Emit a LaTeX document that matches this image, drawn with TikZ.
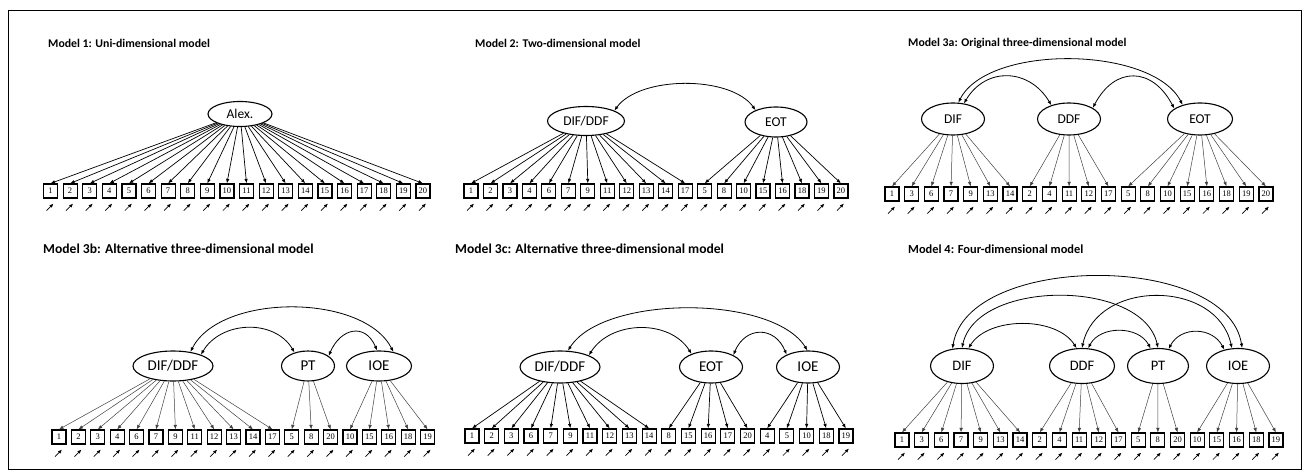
\documentclass[tikz,border=0pt]{standalone}
\usepackage{fontspec}
\setmainfont{Carlito}
\newfontfamily\itemfont{Liberation Serif}
\usepackage{tikz}
\usetikzlibrary{calc}
\usetikzlibrary{arrows.meta,shapes}

\newcommand{\itemrow}[5]{%
  \foreach \v [count=\i] in {#5} {
    \node[item] (#1\i) at ({#2+(\i-1)*#3},#4) {\v};
    \coordinate (#1s\i) at ($(#1\i.south)+(-4,12)$);
    \coordinate (#1t\i) at ($(#1\i.south)+(3,5)$);
    \draw[err] (#1s\i) -- (#1t\i);
  }}

\begin{document}
\begin{tikzpicture}[x=1pt,y=-1pt,
    factor/.style={draw,ellipse,line width=1.1pt,inner sep=0pt,font=\fontsize{#1}{#1}\selectfont},
    factor/.default=13.5,
    item/.style={draw,line width=1.2pt,minimum width=14pt,minimum height=14pt,inner sep=0pt,font=\itemfont\fontsize{8.5}{9}\selectfont},
    load/.style={-{Latex[length=4.5pt,width=3.5pt]},line width=0.7pt},
    light load/.style={load,line width=0.5pt,draw=black!75},
    err/.style={-{Latex[length=4pt,width=3.5pt]},line width=0.7pt},
    cov/.style={{Latex[length=4.5pt,width=3.5pt]}-{Latex[length=4.5pt,width=3.5pt]},line width=0.8pt},
    title/.style={anchor=west,inner sep=0pt,font=\bfseries\fontsize{#1}{#1}\selectfont},
    title/.default=11.8]

  \useasboundingbox (0,0) rectangle (1308,476);
  \draw[line width=0.8pt] (8,10) rectangle (1301,469);

  \node[title] (t1) at (48,43) {Model 1: Uni-dimensional model};
  \node[title] (t2) at (475,43) {Model 2: Two-dimensional model};
  \node[title] (t3) at (908,43) {Model 3a: Original three-dimensional model};
  \node[title=13.6] (t4) at (43,249) {Model 3b: Alternative three-dimensional model};
  \node[title=13.6] (t5) at (455,249) {Model 3c: Alternative three-dimensional model};
  \node[title=12.4] (t6) at (908,249) {Model 4: Four-dimensional model};

  % Model 1
  \node[factor,minimum width=64,minimum height=25] (alex) at (240,114) {Alex.};
  \itemrow{a}{50.5}{19.6}{191}{1,...,20}
  \foreach \i in {1,...,20} \draw[load] (alex) -- (a\i.north);

  % Model 2
  \node[factor,minimum width=77,minimum height=29] (dd2) at (586,121) {DIF/DDF};
  \node[factor,minimum width=62,minimum height=30] (eot2) at (776,122) {EOT};
  \itemrow{b}{471}{19.47}{191}{1,2,3,4,6,7,9,11,12,13,14,17,5,8,10,15,16,18,19,20}
  \foreach \i in {1,...,12} \draw[load] (dd2) -- (b\i.north);
  \foreach \i in {13,...,20} \draw[load] (eot2) -- (b\i.north);
  \draw[cov] (dd2.20) .. controls +(25,-35) and +(-25,-35) .. (eot2.150);

  % Model 3a
  \node[factor,minimum width=63,minimum height=32] (dif3) at (953,119) {DIF};
  \node[factor,minimum width=63,minimum height=32] (ddf3) at (1069,119) {DDF};
  \node[factor,minimum width=65,minimum height=32] (eot3) at (1200,119) {EOT};
  \itemrow{c}{892}{19.68}{194}{1,3,6,7,9,13,14,2,4,11,12,17,5,8,10,15,16,18,19,20}
  \foreach \i in {1,...,7} \draw[light load] (dif3) -- (c\i.north);
  \foreach \i in {8,...,12} \draw[light load] (ddf3) -- (c\i.north);
  \foreach \i in {13,...,20} \draw[light load] (eot3) -- (c\i.north);
  \draw[cov] (dif3.72) .. controls +(30,-59) and +(-30,-59) .. (eot3.141);
  \draw[cov] (dif3.55) .. controls +(22,-37) and +(-22,-37) .. (ddf3.142);
  \draw[cov] (ddf3.25) .. controls +(22,-42) and +(-22,-42) .. (eot3.158);

  % Model 3b
  \node[factor=15,minimum width=80,minimum height=30] (ddb) at (173,366) {DIF/DDF};
  \node[factor=15,minimum width=53,minimum height=30] (ptb) at (308,366) {PT};
  \node[factor=15,minimum width=65,minimum height=30] (ioeb) at (379,366) {IOE};
  \itemrow{d}{59}{19.4}{437}{1,2,3,4,6,7,9,11,12,13,14,17,5,8,20,10,15,16,18,19}
  \foreach \i in {1,...,12} \draw[light load] (ddb) -- (d\i.north);
  \foreach \i in {13,...,15} \draw[light load] (ptb) -- (d\i.north);
  \foreach \i in {16,...,20} \draw[light load] (ioeb) -- (d\i.north);
  \draw[cov] (ddb.39) .. controls +(30,-59) and +(-30,-59) .. (ioeb.44);
  \draw[cov] (ddb.22) .. controls +(20,-34) and +(-20,-34) .. (ptb.135);
  \draw[cov] (ptb.26) .. controls +(12,-28) and +(-12,-28) .. (ioeb.97);

  % Model 3c
  \node[factor=15,minimum width=80,minimum height=32] (ddc) at (560,367) {DIF/DDF};
  \node[factor=15,minimum width=63,minimum height=32] (eotc) at (711,367) {EOT};
  \node[factor=15,minimum width=63,minimum height=32] (ioec) at (808,367) {IOE};
  \itemrow{e}{472}{19.68}{436}{1,2,3,6,7,9,11,12,13,14,8,15,16,17,20,4,5,10,18,19}
  \foreach \i in {1,...,10} \draw[load] (ddc) -- (e\i.north);
  \foreach \i in {11,...,15} \draw[load] (eotc) -- (e\i.north);
  \foreach \i in {16,...,20} \draw[load] (ioec) -- (e\i.north);
  \draw[cov] (ddc.64) .. controls +(35,-56) and +(-35,-56) .. (ioec.92);
  \draw[cov] (ddc.22) .. controls +(22,-35) and +(-22,-35) .. (eotc.146);
  \draw[cov] (eotc.28) .. controls +(12,-29) and +(-12,-29) .. (ioec.150);

  % Model 4
  \node[factor=14.5,minimum width=63,minimum height=35] (dif4) at (962,366) {DIF};
  \node[factor=14.5,minimum width=65,minimum height=35] (ddf4) at (1082,366) {DDF};
  \node[factor=14.5,minimum width=61,minimum height=35] (pt4) at (1158,366) {PT};
  \node[factor=14.5,minimum width=63,minimum height=35] (ioe4) at (1238,366) {IOE};
  \itemrow{f}{902}{19.68}{440}{1,3,6,7,9,13,14,2,4,11,12,17,5,8,20,10,15,16,18,19}
  \foreach \i in {1,...,7} \draw[light load] (dif4) -- (f\i.north);
  \foreach \i in {8,...,12} \draw[light load] (ddf4) -- (f\i.north);
  \foreach \i in {13,...,15} \draw[light load] (pt4) -- (f\i.north);
  \foreach \i in {16,...,20} \draw[light load] (ioe4) -- (f\i.north);
  \draw[cov] (dif4.119) .. controls +(15,-96) and +(-15,-96) .. (ioe4.77);
  \draw[cov] (dif4.90) .. controls +(15,-69) and +(-15,-69) .. (pt4.90);
  \draw[cov] (ddf4.90) .. controls +(15,-69) and +(-15,-69) .. (ioe4.109);
  \draw[cov] (dif4.70) .. controls +(20,-32) and +(-20,-32) .. (ddf4.107);
  \draw[cov] (ddf4.71) .. controls +(12,-23) and +(-12,-23) .. (pt4.113);
  \draw[cov] (pt4.58) .. controls +(12,-23) and +(-12,-23) .. (ioe4.130);
\end{tikzpicture}
\end{document}
